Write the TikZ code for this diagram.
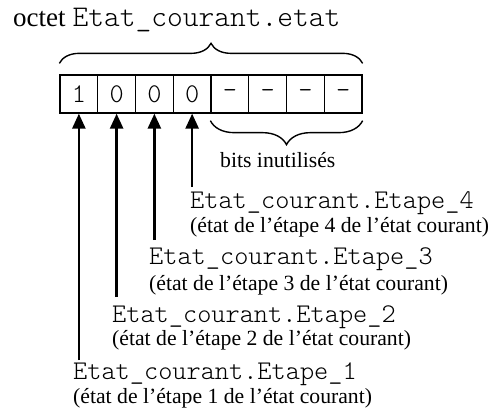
\documentclass[tikz,border=0pt]{standalone}
\usepackage{fontspec}
\setmainfont{Liberation Serif}
\IfFontExistsTF{Latin Modern Mono Light}{\setmonofont{Latin Modern Mono Light}}{}
\usetikzlibrary{arrows.meta,decorations.pathreplacing}
\begin{document}
\begin{tikzpicture}[x=1pt,y=-1pt,
  cell/.style={draw,line width=1.3pt,minimum width=37.75pt,minimum height=38pt,inner sep=0pt,font=\fontsize{27}{27}\ttfamily},
  bracestyle/.style={decorate,line width=1.4pt},
  ptr/.style={line width=2.6pt,-{Triangle[width=13pt,length=15pt]}},
  code/.style={anchor=west,inner sep=0pt,font=\fontsize{27}{27}\ttfamily},
  expl/.style={anchor=west,inner sep=0pt,font=\fontsize{21.7}{24}\selectfont}]
\useasboundingbox (0,0) rectangle (492,412);
\node[anchor=west,inner sep=0pt,font=\fontsize{27}{27}\selectfont] (title) at (13,20) {octet\hspace{7pt}\fontsize{30}{30}\ttfamily Etat\_courant.etat};
\foreach \i/\v in {1/1,2/0,3/0,4/0,5/-,6/-,7/-,8/-}{
  \node[cell] (c\i) at ({60+37.75*(\i-0.5)},94) {\v};
}
\draw[bracestyle,decoration={brace,amplitude=20pt}] (c1.north west)++(0,-11) coordinate (b1) -- ([yshift=11pt]c8.north east) coordinate (b2);
\draw[bracestyle,decoration={brace,amplitude=24pt}] ([yshift=-7pt]c8.south east) coordinate (b3) -- ([yshift=-7pt]c5.south west) coordinate (b4);
\node[expl] (unused) at (220,160) {bits inutilisés};
\node[code] (e4) at (190,203) {Etat\_courant.Etape\_4};
\node[expl] (d4) at (190,227) {(état de l’étape 4 de l’état courant)};
\node[code] (e3) at (149,259) {Etat\_courant.Etape\_3};
\node[expl] (d3) at (149,285) {(état de l’étape 3 de l’état courant)};
\node[code] (e2) at (112,317) {Etat\_courant.Etape\_2};
\node[expl] (d2) at (112,340) {(état de l’étape 2 de l’état courant)};
\node[code] (e1) at (73,374) {Etat\_courant.Etape\_1};
\node[expl] (d1) at (73,398) {(état de l’étape 1 de l’état courant)};
\coordinate (s4) at (c4 |- 0,187);
\coordinate (s3) at (c3 |- 0,240);
\coordinate (s2) at (c2 |- 0,297);
\coordinate (s1) at (c1 |- 0,360);
\foreach \i in {1,...,4}{\draw[ptr] (s\i) -- (c\i.south);}
\end{tikzpicture}
\end{document}
